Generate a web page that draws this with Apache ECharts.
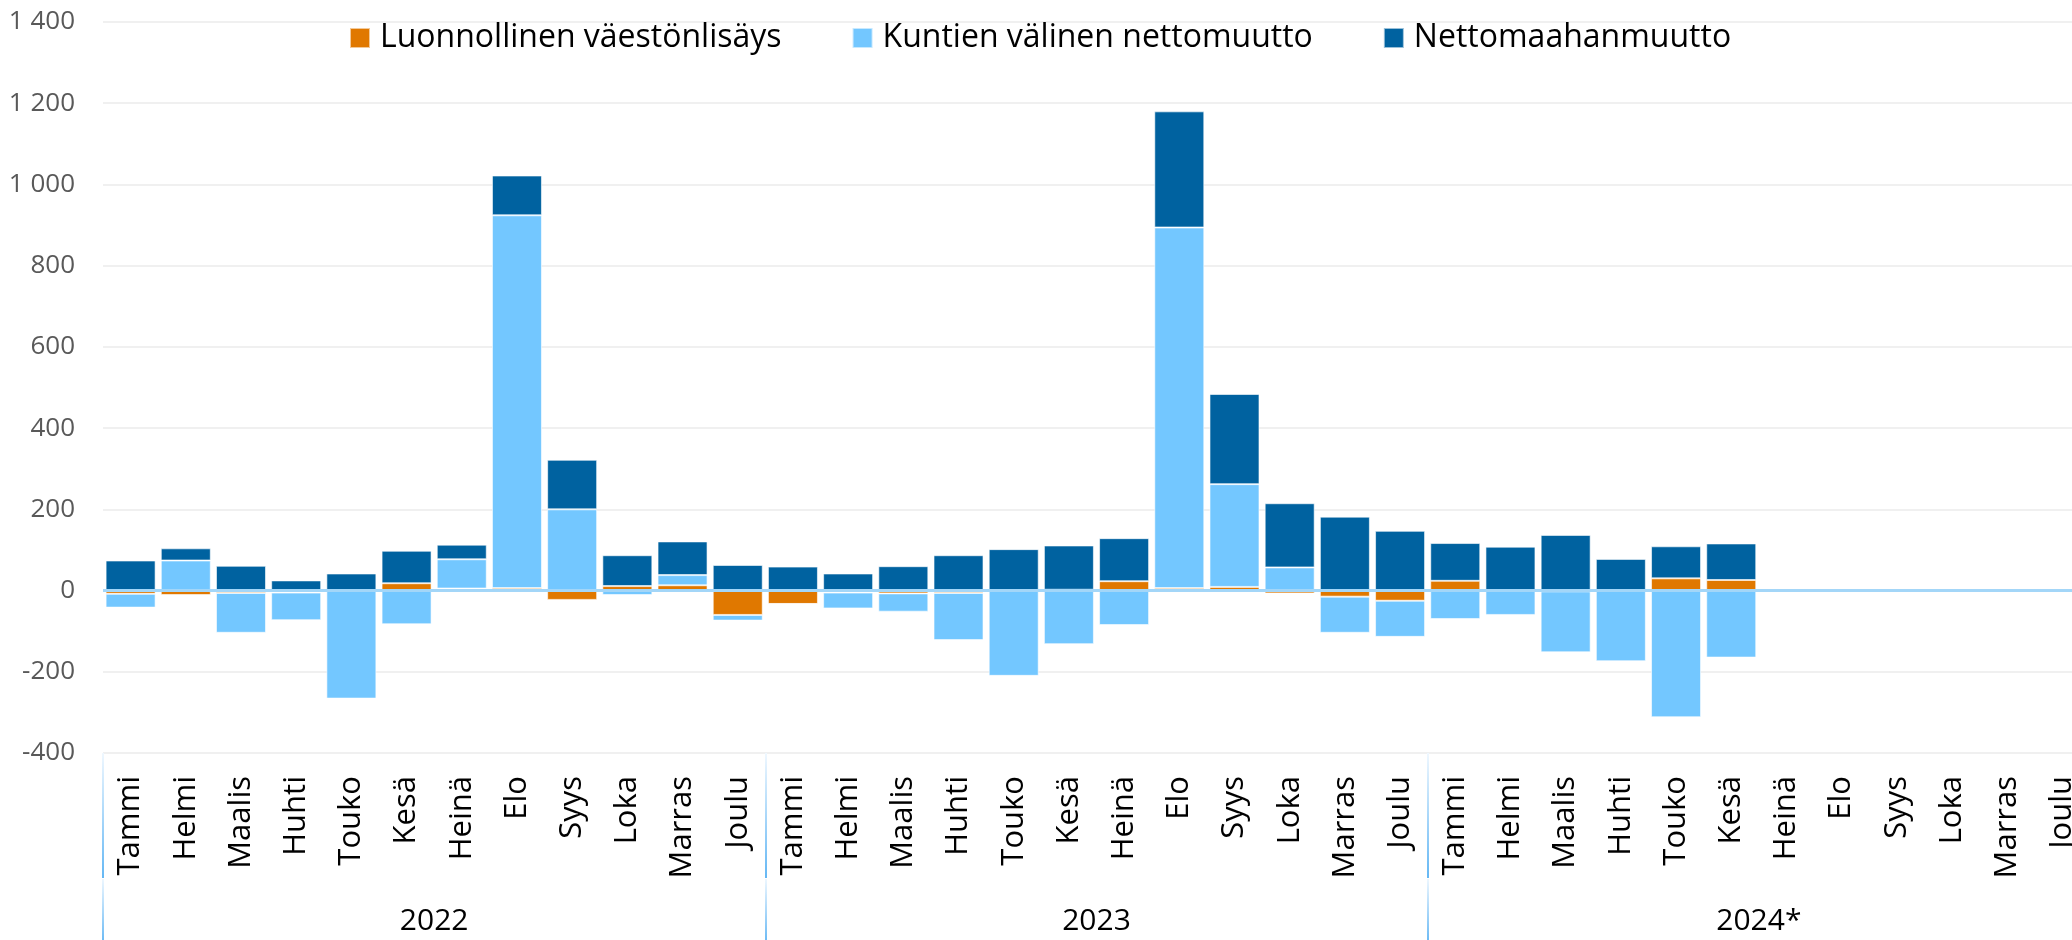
<!DOCTYPE html>
<html>
<head>
<meta charset="utf-8">
<script src="https://cdn.jsdelivr.net/npm/echarts@6/dist/echarts.min.js"></script>
<style>
  html, body { margin: 0; padding: 0; background: #fff; }
  #chart { width: 2072px; height: 940px; }
</style>
</head>
<body>
<div id="chart"></div>
<script>
var months = ['Tammi','Helmi','Maalis','Huhti','Touko','Kesä','Heinä','Elo','Syys','Loka','Marras','Joulu'];
var years = ['2022','2023','2024*'];
var categories = months.concat(months, months);

// Luonnollinen väestönlisäys
var luonnollinen = [
  -8, -11, -6, -5, -1, 18, 5, 6, -23, 11, 13, -60,
  -33, -5, -7, -6, -1, 2, 23, 6, 9, -7, -15, -25,
  24, 0, -2, 0, 30, 26, null, null, null, null, null, null
];
// Kuntien välinen nettomuutto
var kuntien = [
  -34, 74, -98, -68, -265, -83, 72, 918, 200, -11, 25, -14,
  0, -39, -45, -116, -209, -132, -85, 888, 253, 57, -89, -89,
  -70, -60, -150, -174, -312, -165, null, null, null, null, null, null
];
// Nettomaahanmuutto
var netto = [
  74, 30, 61, 25, 42, 80, 36, 98, 122, 76, 83, 63,
  59, 42, 60, 87, 102, 109, 106, 286, 222, 158, 182, 147,
  93, 108, 137, 78, 79, 90, null, null, null, null, null, null
];

var FONT = 'Open Sans';
var barStyle = { borderColor: 'rgba(255,255,255,0.6)', borderWidth: 1 };

function fmt(v) {
  return String(v).replace(/\B(?=(\d{3})+(?!\d))/g, ' ');
}
// jakoviivat vuosien välissä, vaalea ylhäältä
function sepColor() {
  return new echarts.graphic.LinearGradient(0, 0, 0, 1, [
    { offset: 0, color: '#f2f9ff' },
    { offset: 1, color: '#62b6f4' }
  ]);
}

var chart = echarts.init(document.getElementById('chart'));
chart.setOption({
  animation: false,
  backgroundColor: '#fff',
  legend: {
    left: 349,
    top: 22,
    padding: 0,
    icon: 'rect',
    itemWidth: 20,
    itemHeight: 20,
    itemGap: 70,
    textStyle: { fontFamily: FONT, fontSize: 32, color: '#000', padding: [0, 0, 0, 5] },
    data: ['Luonnollinen väestönlisäys', 'Kuntien välinen nettomuutto', 'Nettomaahanmuutto']
  },
  grid: { left: 103, width: 1987, top: 22, bottom: 187, containLabel: false, outerBoundsMode: 'none' },
  xAxis: [
    {
      type: 'category',
      data: categories,
      axisLine: { show: false },
      axisTick: { show: false },
      axisLabel: {
        interval: 0,
        rotate: 90,
        margin: 23,
        fontFamily: FONT,
        fontSize: 31,
        color: '#000'
      }
    },
    {
      type: 'category',
      data: years,
      position: 'bottom',
      axisLine: { show: false },
      axisTick: { show: true, length: 125, lineStyle: { color: sepColor(), width: 2 } },
      axisLabel: {
        margin: 153,
        fontFamily: FONT,
        fontSize: 30,
        color: '#000'
      }
    },
    {
      type: 'category',
      data: years,
      position: 'bottom',
      offset: 126,
      axisLine: { show: false },
      axisTick: { show: true, length: 64, lineStyle: { color: sepColor(), width: 2 } },
      axisLabel: { show: false }
    }
  ],
  yAxis: {
    type: 'value',
    min: -400,
    max: 1400,
    interval: 200,
    axisLine: { show: false },
    axisTick: { show: false },
    splitLine: { lineStyle: { color: '#f0f0f0', width: 2 } },
    axisLabel: {
      margin: 28,
      fontFamily: FONT,
      fontSize: 26,
      color: '#595959',
      formatter: fmt
    }
  },
  series: [
    {
      name: 'Luonnollinen väestönlisäys',
      type: 'bar',
      stack: 'total',
      barWidth: 50,
      itemStyle: Object.assign({ color: '#e07800' }, barStyle),
      data: luonnollinen
    },
    {
      name: 'Kuntien välinen nettomuutto',
      type: 'bar',
      stack: 'total',
      barWidth: 50,
      itemStyle: Object.assign({ color: '#73c7ff' }, barStyle),
      data: kuntien
    },
    {
      name: 'Nettomaahanmuutto',
      type: 'bar',
      stack: 'total',
      barWidth: 50,
      itemStyle: Object.assign({ color: '#0062a0' }, barStyle),
      data: netto,
      markLine: {
        silent: true,
        symbol: 'none',
        label: { show: false },
        lineStyle: { color: '#a3d6f8', width: 3, type: 'solid' },
        data: [{ yAxis: 0 }]
      }
    }
  ]
});
</script>
</body>
</html>
